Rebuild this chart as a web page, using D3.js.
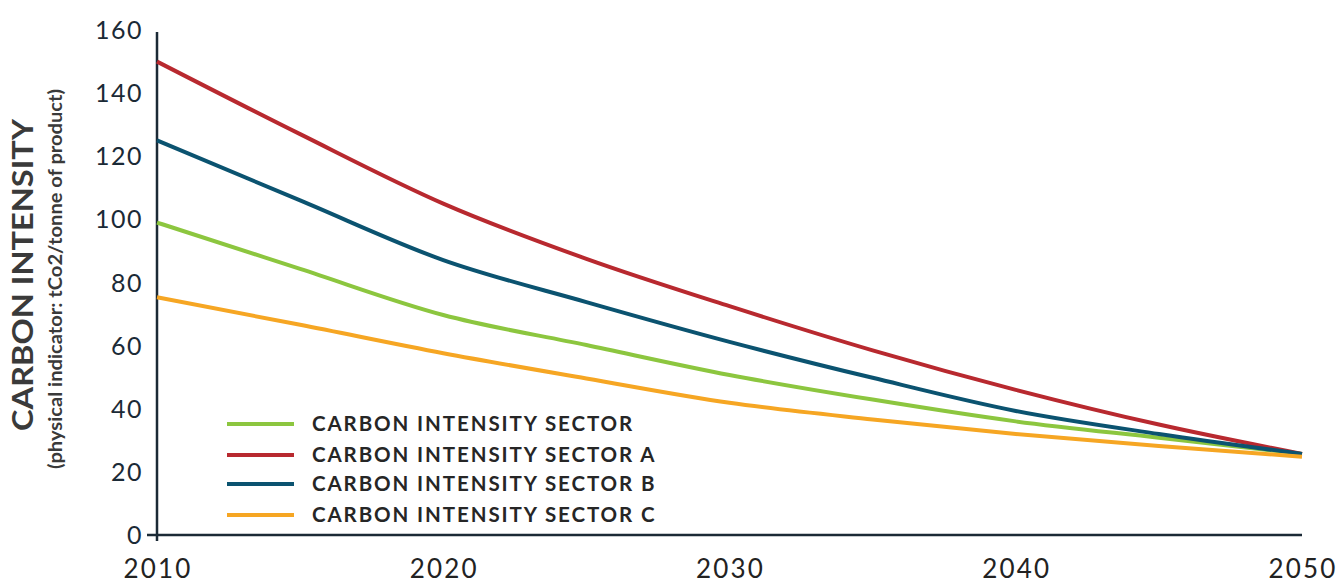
<!DOCTYPE html>
<html>
<head>
<meta charset="utf-8">
<script src="https://cdn.jsdelivr.net/npm/d3@7"></script>
<style>
  html, body { margin: 0; padding: 0; background: #ffffff; }
  svg { display: block; }
</style>
</head>
<body>
<svg id="chart" width="1342" height="584"></svg>
<script>
// Years on the horizontal axis and carbon intensity per sector
const years = [2010, 2015, 2020, 2025, 2030, 2035, 2040, 2045, 2050];
const sectorAll = [99, 84.3, 69.7, 60.2, 50.7, 42.9, 36, 30.8, 25.7];
const sectorA   = [150, 127, 105, 87.5, 72.5, 58.5, 46, 35, 25.7];
const sectorB   = [125, 106, 87.1, 73.8, 61.2, 49.8, 39.3, 32, 25.7];
const sectorC   = [75.3, 66.6, 57.6, 49.6, 41.9, 36.6, 32, 28.2, 24.8];

const seriesNames = [
  "CARBON INTENSITY SECTOR",
  "CARBON INTENSITY SECTOR A",
  "CARBON INTENSITY SECTOR B",
  "CARBON INTENSITY SECTOR C"
];
const seriesValues = [sectorAll, sectorA, sectorB, sectorC];
const seriesColors = ["#8cc63f", "#b8292f", "#0b5370", "#f6a623"];

const yTicks = [0, 20, 40, 60, 80, 100, 120, 140, 160];
const xTicks = [2010, 2020, 2030, 2040, 2050];

const svg = d3.select("#chart");
const axisColor = "#1b2a36";
const font = "Lato, 'Open Sans', sans-serif";

const x = d3.scaleLinear().domain([2010, 2050]).range([157, 1302]);
const y = d3.scaleLinear().domain([0, 160]).range([535, 30]);

// Axis lines
svg.append("line")
  .attr("x1", x(2010)).attr("x2", x(2010))
  .attr("y1", y(160) + 2).attr("y2", y(0) + 6)
  .attr("stroke", axisColor).attr("stroke-width", 2.5);
svg.append("line")
  .attr("x1", x(2010) - 10).attr("x2", x(2050))
  .attr("y1", y(0)).attr("y2", y(0))
  .attr("stroke", axisColor).attr("stroke-width", 2.5);

// Tick labels
svg.append("g").selectAll("text")
  .data(yTicks).join("text")
  .attr("x", 143)
  .attr("y", d => y(d))
  .attr("dy", "0.36em")
  .attr("text-anchor", "end")
  .attr("font-family", font)
  .attr("font-size", 25)
  .attr("letter-spacing", 1.5)
  .attr("fill", "#1b2a36")
  .text(d => d);

svg.append("g").selectAll("text")
  .data(xTicks).join("text")
  .attr("x", d => x(d) + 1)
  .attr("y", 578)
  .attr("text-anchor", "middle")
  .attr("font-family", font)
  .attr("font-size", 26)
  .attr("letter-spacing", 2.2)
  .attr("fill", "#222")
  .text(d => d);

// Y axis title
svg.append("text")
  .attr("transform", "translate(33,275) rotate(-90)")
  .attr("text-anchor", "middle")
  .attr("font-family", font)
  .attr("font-weight", 700)
  .attr("font-size", 28)
  .attr("textLength", 312)
  .attr("lengthAdjust", "spacingAndGlyphs")
  .attr("fill", "#3a3a3a")
  .text("CARBON INTENSITY");
svg.append("text")
  .attr("transform", "translate(62,279) rotate(-90)")
  .attr("text-anchor", "middle")
  .attr("font-family", font)
  .attr("font-weight", 700)
  .attr("font-size", 18)
  .attr("textLength", 380)
  .attr("lengthAdjust", "spacingAndGlyphs")
  .attr("fill", "#3a3a3a")
  .text("(physical indicator: tCo2/tonne of product)");

// Lines
const line = d3.line()
  .x((d, i) => x(years[i]))
  .y(d => y(d))
  .curve(d3.curveMonotoneX);

svg.append("g").selectAll("path")
  .data(seriesValues).join("path")
  .attr("d", d => line(d))
  .attr("fill", "none")
  .attr("stroke", (d, i) => seriesColors[i])
  .attr("stroke-width", 4)
  .attr("stroke-linejoin", "round");

// Legend
const legend = svg.append("g");
const legendY = [424, 455, 484, 515];
seriesNames.forEach((name, i) => {
  legend.append("line")
    .attr("x1", 227).attr("x2", 294)
    .attr("y1", legendY[i]).attr("y2", legendY[i])
    .attr("stroke", seriesColors[i]).attr("stroke-width", 4);
  legend.append("text")
    .attr("x", 312).attr("y", legendY[i])
    .attr("dy", "0.36em")
    .attr("font-family", font)
    .attr("font-weight", 700)
    .attr("font-size", 20.5)
    .attr("letter-spacing", 1.9)
    .attr("fill", "#262626")
    .text(name);
});
</script>
</body>
</html>
